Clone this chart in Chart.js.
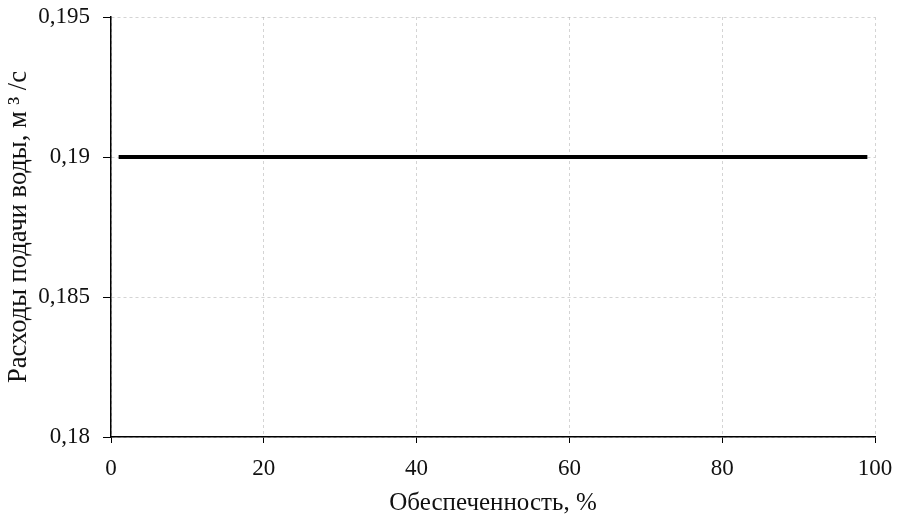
<!DOCTYPE html>
<html>
<head>
<meta charset="utf-8">
<script src="https://cdn.jsdelivr.net/npm/chart.js@4/dist/chart.umd.min.js"></script>
<style>
html,body{margin:0;padding:0;background:#fff;}
#wrap{width:898px;height:526px;position:relative;}
</style>
</head>
<body>
<div id="wrap"><canvas id="c" width="898" height="526"></canvas></div>
<script>
const xValues = [1, 10, 20, 30, 40, 50, 60, 70, 80, 90, 99];
const flowValues = [0.19, 0.19, 0.19, 0.19, 0.19, 0.19, 0.19, 0.19, 0.19, 0.19, 0.19];
const yTickLabels = ['0,18', '0,185', '0,19', '0,195'];
const xTitle = 'Обеспеченность, %';
const yTitle = 'Расходы подачи воды, м ³ /с';

const points = xValues.map((x, i) => ({x: x, y: flowValues[i]}));
const fam = '"Liberation Serif", "DejaVu Serif", serif';

new Chart(document.getElementById('c'), {
  type: 'line',
  data: {
    datasets: [{
      data: points,
      borderColor: '#000',
      borderWidth: 4,
      pointRadius: 0,
      tension: 0,
      fill: false
    }]
  },
  options: {
    responsive: false,
    animation: false,
    layout: {padding: {top: 17, right: 23, left: 0, bottom: 0}},
    plugins: {legend: {display: false}, tooltip: {enabled: false}},
    scales: {
      x: {
        type: 'linear',
        min: 0, max: 100,
        ticks: {stepSize: 20, color: '#111', font: {family: fam, size: 23}, padding: 12},
        grid: {color: 'rgba(170,170,170,0.5)', tickColor: '#000', tickLength: 6},
        border: {color: '#000', width: 1.5, dash: [3, 3]},
        title: {display: true, text: xTitle, color: '#111', font: {family: fam, size: 25}, padding: {top: 0, bottom: 8}},
        afterFit: s => { s.height = 89; s.paddingLeft = 0; s.paddingRight = 0; }
      },
      y: {
        type: 'linear',
        min: 0.18, max: 0.195,
        ticks: {
          stepSize: 0.005, color: '#111', font: {family: fam, size: 23}, padding: 13,
          callback: (v, i) => yTickLabels[i] !== undefined ? yTickLabels[i] : ''
        },
        grid: {color: 'rgba(170,170,170,0.5)', tickColor: '#000', tickLength: 8},
        border: {color: '#000', width: 1.5, dash: [3, 3]},
        title: {display: true, text: yTitle, color: '#111', font: {family: fam, size: 26.5}, padding: {top: 3, bottom: 0}},
        afterFit: s => { s.width = 111; s.paddingTop = 0; s.paddingBottom = 0; }
      }
    }
  }
});
</script>
</body>
</html>
